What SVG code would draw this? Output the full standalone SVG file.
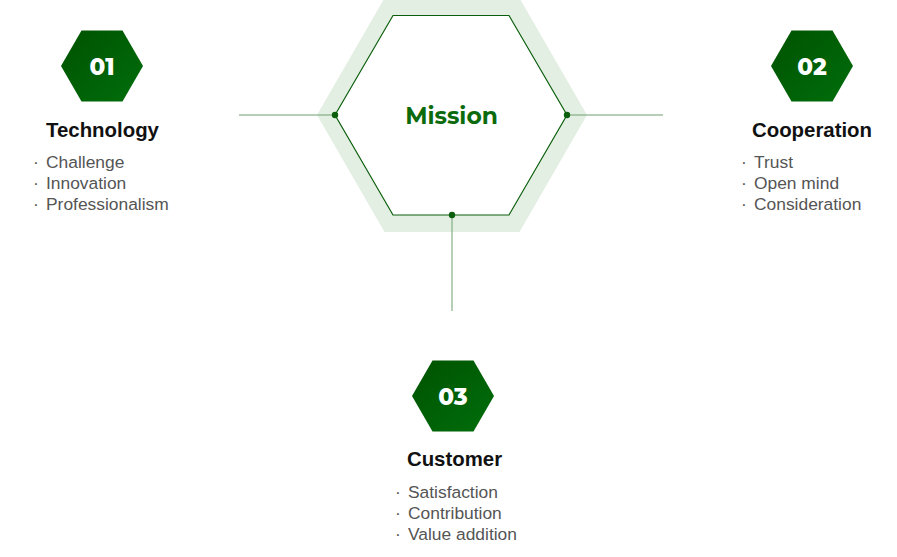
<svg xmlns="http://www.w3.org/2000/svg" width="897" height="557" viewBox="0 0 897 557">
<defs>
<linearGradient id="hexg" x1="0" y1="0" x2="1" y2="1">
<stop offset="0" stop-color="#005200"/>
<stop offset="1" stop-color="#006e0c"/>
</linearGradient>
<style>
.num{font-family:"Montserrat","Open Sans","Liberation Sans",sans-serif;font-weight:800;font-size:23px;fill:#fff;text-anchor:middle}
.title{font-family:"Liberation Sans",Arial,sans-serif;font-weight:700;font-size:20.4px;fill:#111;text-anchor:middle}
.item{font-family:"Liberation Sans",Arial,sans-serif;font-size:17.4px;fill:#555}
.conn{stroke:#6f9f6f;stroke-width:1;fill:none}
.dot{fill:#0b5e0b}
.hex{fill:url(#hexg)}
</style>
</defs>
<g id="mission">
<polygon points="317,115 384.5,-2 519.5,-2 587,115 519.5,232 384.5,232" fill="#e4efe4"/>
<polygon points="335,115 393,15.5 509,15.5 567,115 509,215 393,215" fill="#fff" stroke="#0b5e0b" stroke-width="1.2"/>
<text x="451.5" y="124" style="font-family:'Montserrat','Open Sans','Liberation Sans',sans-serif;font-weight:700;font-size:23.4px;fill:#0b6a0b;text-anchor:middle">Mission</text>
</g>
<g id="connectors">
<line class="conn" x1="239" y1="115" x2="335" y2="115"/>
<line class="conn" x1="567" y1="115" x2="663" y2="115"/>
<line class="conn" x1="452" y1="215" x2="452" y2="311"/>
<circle class="dot" cx="335" cy="115" r="3.2"/>
<circle class="dot" cx="567" cy="115" r="3.2"/>
<circle class="dot" cx="452" cy="215" r="3.2"/>
</g>
<g id="technology">
<polygon class="hex" points="61,66 81.5,30.5 122.5,30.5 143,66 122.5,101.5 81.5,101.5"/>
<text class="num" x="102" y="74.5">01</text>
<text class="title" x="102.5" y="137">Technology</text>
<text class="item" y="167.5"><tspan x="33">·</tspan><tspan x="46">Challenge</tspan></text>
<text class="item" y="188.5"><tspan x="33">·</tspan><tspan x="46">Innovation</tspan></text>
<text class="item" y="209.5"><tspan x="33">·</tspan><tspan x="46">Professionalism</tspan></text>
</g>
<g id="cooperation">
<polygon class="hex" points="771,66 791.5,30.5 832.5,30.5 853,66 832.5,101.5 791.5,101.5"/>
<text class="num" x="812" y="74.5">02</text>
<text class="title" x="812" y="137">Cooperation</text>
<text class="item" y="167.5"><tspan x="741">·</tspan><tspan x="754">Trust</tspan></text>
<text class="item" y="188.5"><tspan x="741">·</tspan><tspan x="754">Open mind</tspan></text>
<text class="item" y="209.5"><tspan x="741">·</tspan><tspan x="754">Consideration</tspan></text>
</g>
<g id="customer">
<polygon class="hex" points="412,396 432.5,360.5 473.5,360.5 494,396 473.5,431.5 432.5,431.5"/>
<text class="num" x="453" y="404.5">03</text>
<text class="title" x="454.5" y="466">Customer</text>
<text class="item" y="497.5"><tspan x="395">·</tspan><tspan x="408">Satisfaction</tspan></text>
<text class="item" y="518.5"><tspan x="395">·</tspan><tspan x="408">Contribution</tspan></text>
<text class="item" y="539.5"><tspan x="395">·</tspan><tspan x="408">Value addition</tspan></text>
</g>
</svg>
